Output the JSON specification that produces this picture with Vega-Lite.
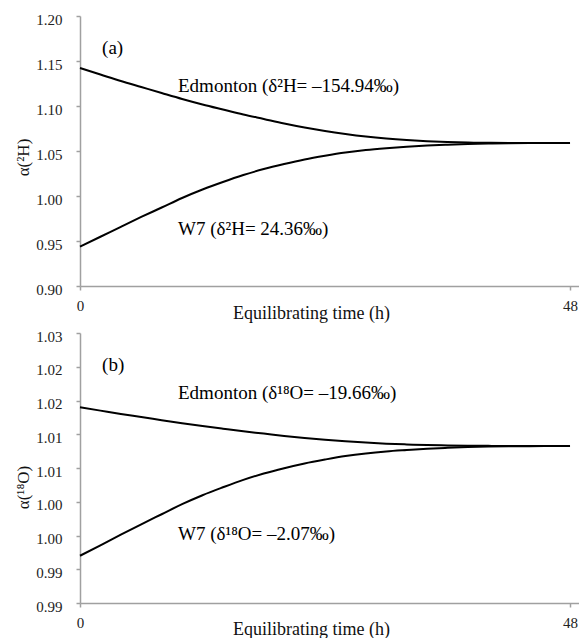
{
  "$schema": "https://vega.github.io/schema/vega-lite/v6.json",
  "padding": {"left": 14, "top": 12, "right": 0, "bottom": 0},
  "background": "white",
  "spacing": 47,
  "bounds": "flush",
  "config": {
    "view": {"stroke": null},
    "font": "Liberation Serif",
    "style": {"guide-label": {"font": "Liberation Serif"}, "guide-title": {"font": "Liberation Serif"}},
    "axis": {
      "labelFont": "Liberation Serif", "titleFont": "Liberation Serif",
      "labelFontSize": 15, "titleFontSize": 18, "titleFontWeight": "normal",
      "labelColor": "#222222", "titleColor": "#111111",
      "domainColor": "#a0a0a0", "tickColor": "#a0a0a0",
      "domainWidth": 1.5, "tickWidth": 1.5, "tickSize": 4, "grid": false,
      "labelOverlap": false, "labelFlush": false
    }
  },
  "datasets": {
    "a": [
      {"t": 0, "s": "Edmonton", "v": 1.1422}, {"t": 2, "s": "Edmonton", "v": 1.1350}, {"t": 4, "s": "Edmonton", "v": 1.1278},
      {"t": 6, "s": "Edmonton", "v": 1.1211}, {"t": 8, "s": "Edmonton", "v": 1.1144}, {"t": 10, "s": "Edmonton", "v": 1.1078},
      {"t": 12, "s": "Edmonton", "v": 1.1017}, {"t": 14, "s": "Edmonton", "v": 1.0961}, {"t": 16, "s": "Edmonton", "v": 1.0906},
      {"t": 18, "s": "Edmonton", "v": 1.0856}, {"t": 20, "s": "Edmonton", "v": 1.0806}, {"t": 22, "s": "Edmonton", "v": 1.0761},
      {"t": 24, "s": "Edmonton", "v": 1.0722}, {"t": 26, "s": "Edmonton", "v": 1.0689}, {"t": 28, "s": "Edmonton", "v": 1.0661},
      {"t": 30, "s": "Edmonton", "v": 1.0639}, {"t": 32, "s": "Edmonton", "v": 1.0622}, {"t": 34, "s": "Edmonton", "v": 1.0609},
      {"t": 36, "s": "Edmonton", "v": 1.0600}, {"t": 38, "s": "Edmonton", "v": 1.0594}, {"t": 40, "s": "Edmonton", "v": 1.0591},
      {"t": 42, "s": "Edmonton", "v": 1.0589}, {"t": 44, "s": "Edmonton", "v": 1.0589}, {"t": 46, "s": "Edmonton", "v": 1.0589},
      {"t": 48, "s": "Edmonton", "v": 1.0589},
      {"t": 0, "s": "W7", "v": 0.9437}, {"t": 2, "s": "W7", "v": 0.9547}, {"t": 4, "s": "W7", "v": 0.9658},
      {"t": 6, "s": "W7", "v": 0.9767}, {"t": 8, "s": "W7", "v": 0.9872}, {"t": 10, "s": "W7", "v": 0.9978},
      {"t": 12, "s": "W7", "v": 1.0072}, {"t": 14, "s": "W7", "v": 1.0156}, {"t": 16, "s": "W7", "v": 1.0233},
      {"t": 18, "s": "W7", "v": 1.0300}, {"t": 20, "s": "W7", "v": 1.0356}, {"t": 22, "s": "W7", "v": 1.0406},
      {"t": 24, "s": "W7", "v": 1.0447}, {"t": 26, "s": "W7", "v": 1.0483}, {"t": 28, "s": "W7", "v": 1.0511},
      {"t": 30, "s": "W7", "v": 1.0531}, {"t": 32, "s": "W7", "v": 1.0547}, {"t": 34, "s": "W7", "v": 1.0560},
      {"t": 36, "s": "W7", "v": 1.0570}, {"t": 38, "s": "W7", "v": 1.0578}, {"t": 40, "s": "W7", "v": 1.0582},
      {"t": 42, "s": "W7", "v": 1.0586}, {"t": 44, "s": "W7", "v": 1.0588}, {"t": 46, "s": "W7", "v": 1.0589},
      {"t": 48, "s": "W7", "v": 1.0589}
    ],
    "b": [
      {"t": 0, "s": "Edmonton", "v": 1.01900}, {"t": 2, "s": "Edmonton", "v": 1.01850}, {"t": 4, "s": "Edmonton", "v": 1.01800},
      {"t": 6, "s": "Edmonton", "v": 1.01755}, {"t": 8, "s": "Edmonton", "v": 1.01709}, {"t": 10, "s": "Edmonton", "v": 1.01663},
      {"t": 12, "s": "Edmonton", "v": 1.01621}, {"t": 14, "s": "Edmonton", "v": 1.01582}, {"t": 16, "s": "Edmonton", "v": 1.01544},
      {"t": 18, "s": "Edmonton", "v": 1.01510}, {"t": 20, "s": "Edmonton", "v": 1.01475}, {"t": 22, "s": "Edmonton", "v": 1.01445},
      {"t": 24, "s": "Edmonton", "v": 1.01418}, {"t": 26, "s": "Edmonton", "v": 1.01395}, {"t": 28, "s": "Edmonton", "v": 1.01376},
      {"t": 30, "s": "Edmonton", "v": 1.01360}, {"t": 32, "s": "Edmonton", "v": 1.01349}, {"t": 34, "s": "Edmonton", "v": 1.01340},
      {"t": 36, "s": "Edmonton", "v": 1.01334}, {"t": 38, "s": "Edmonton", "v": 1.01330}, {"t": 40, "s": "Edmonton", "v": 1.01328},
      {"t": 42, "s": "Edmonton", "v": 1.01326}, {"t": 44, "s": "Edmonton", "v": 1.01326}, {"t": 46, "s": "Edmonton", "v": 1.01326},
      {"t": 48, "s": "Edmonton", "v": 1.01326},
      {"t": 0, "s": "W7", "v": 0.99700}, {"t": 2, "s": "W7", "v": 0.99855}, {"t": 4, "s": "W7", "v": 1.00012},
      {"t": 6, "s": "W7", "v": 1.00166}, {"t": 8, "s": "W7", "v": 1.00315}, {"t": 10, "s": "W7", "v": 1.00464},
      {"t": 12, "s": "W7", "v": 1.00597}, {"t": 14, "s": "W7", "v": 1.00714}, {"t": 16, "s": "W7", "v": 1.00824},
      {"t": 18, "s": "W7", "v": 1.00918}, {"t": 20, "s": "W7", "v": 1.00997}, {"t": 22, "s": "W7", "v": 1.01067},
      {"t": 24, "s": "W7", "v": 1.01125}, {"t": 26, "s": "W7", "v": 1.01177}, {"t": 28, "s": "W7", "v": 1.01216},
      {"t": 30, "s": "W7", "v": 1.01245}, {"t": 32, "s": "W7", "v": 1.01266}, {"t": 34, "s": "W7", "v": 1.01285},
      {"t": 36, "s": "W7", "v": 1.01299}, {"t": 38, "s": "W7", "v": 1.01310}, {"t": 40, "s": "W7", "v": 1.01317},
      {"t": 42, "s": "W7", "v": 1.01321}, {"t": 44, "s": "W7", "v": 1.01324}, {"t": 46, "s": "W7", "v": 1.01326},
      {"t": 48, "s": "W7", "v": 1.01326}
    ],
    "ta": [
      {"t": 2.16, "v": 1.1578, "label": "(a)"},
      {"t": 9.6, "v": 1.1156, "label": "Edmonton (δ²H= –154.94‰)"},
      {"t": 9.6, "v": 0.9567, "label": "W7 (δ²H= 24.36‰)"}
    ],
    "tb": [
      {"t": 2.16, "v": 1.02437, "label": "(b)"},
      {"t": 9.6, "v": 1.02022, "label": "Edmonton (δ¹⁸O= –19.66‰)"},
      {"t": 9.6, "v": 0.99933, "label": "W7 (δ¹⁸O= –2.07‰)"}
    ]
  },
  "vconcat": [
    {
      "width": 499, "height": 270,
      "layer": [
        {
          "data": {"name": "a"},
          "mark": {"type": "line", "color": "black", "strokeWidth": 2, "interpolate": "monotone"},
          "encoding": {
            "x": {"field": "t", "type": "quantitative", "scale": {"domain": [0, 48.88], "nice": false, "zero": false},
              "axis": {"values": [0, 48], "tickCount": 10, "title": "Equilibrating time (h)", "labelPadding": 8, "labelOverlap": false, "titleX": 231, "titleY": 32, "titleAlign": "center", "titleBaseline": "alphabetic"}},
            "y": {"field": "v", "type": "quantitative", "scale": {"domain": [0.9, 1.2], "nice": false, "zero": false},
              "axis": {"values": [0.9, 0.95, 1.0, 1.05, 1.1, 1.15, 1.2], "tickCount": 20, "format": ".2f", "title": "α(²H)", "labelPadding": 14, "labelOffset": 3, "labelOverlap": false,
                "titleX": -57, "titleY": 141, "titleAngle": -90, "titleAlign": "center", "titleBaseline": "middle", "titleFontSize": 17}},
            "detail": {"field": "s", "type": "nominal"}
          }
        },
        {
          "mark": {"type": "rule", "color": "black", "strokeWidth": 1.5},
          "encoding": {"y": {"datum": 1.2, "type": "quantitative"}}
        },
        {
          "data": {"name": "ta"},
          "mark": {"type": "text", "align": "left", "baseline": "alphabetic", "font": "Liberation Serif", "fontSize": 19, "color": "black"},
          "encoding": {
            "x": {"field": "t", "type": "quantitative"},
            "y": {"field": "v", "type": "quantitative"},
            "text": {"field": "label", "type": "nominal"}
          }
        }
      ]
    },
    {
      "width": 499, "height": 270,
      "layer": [
        {
          "data": {"name": "b"},
          "mark": {"type": "line", "color": "black", "strokeWidth": 2, "interpolate": "monotone"},
          "encoding": {
            "x": {"field": "t", "type": "quantitative", "scale": {"domain": [0, 48.88], "nice": false, "zero": false},
              "axis": {"values": [0, 48], "tickCount": 10, "title": "Equilibrating time (h)", "labelPadding": 8, "labelOverlap": false, "titleX": 231, "titleY": 31, "titleAlign": "center", "titleBaseline": "alphabetic"}},
            "y": {"field": "v", "type": "quantitative", "scale": {"domain": [0.99, 1.03], "nice": false, "zero": false},
              "axis": {"values": [0.99, 0.995, 1.0, 1.005, 1.01, 1.015, 1.02, 1.025, 1.03], "tickCount": 20, "format": ".2f", "title": "α(¹⁸O)", "labelPadding": 14, "labelOffset": 3, "labelOverlap": false,
                "titleX": -57, "titleY": 154, "titleAngle": -90, "titleAlign": "center", "titleBaseline": "middle", "titleFontSize": 17}},
            "detail": {"field": "s", "type": "nominal"}
          }
        },
        {
          "mark": {"type": "rule", "color": "black", "strokeWidth": 1.5},
          "encoding": {"y": {"datum": 1.03, "type": "quantitative"}}
        },
        {
          "data": {"name": "tb"},
          "mark": {"type": "text", "align": "left", "baseline": "alphabetic", "font": "Liberation Serif", "fontSize": 19, "color": "black"},
          "encoding": {
            "x": {"field": "t", "type": "quantitative"},
            "y": {"field": "v", "type": "quantitative"},
            "text": {"field": "label", "type": "nominal"}
          }
        }
      ]
    }
  ]
}
